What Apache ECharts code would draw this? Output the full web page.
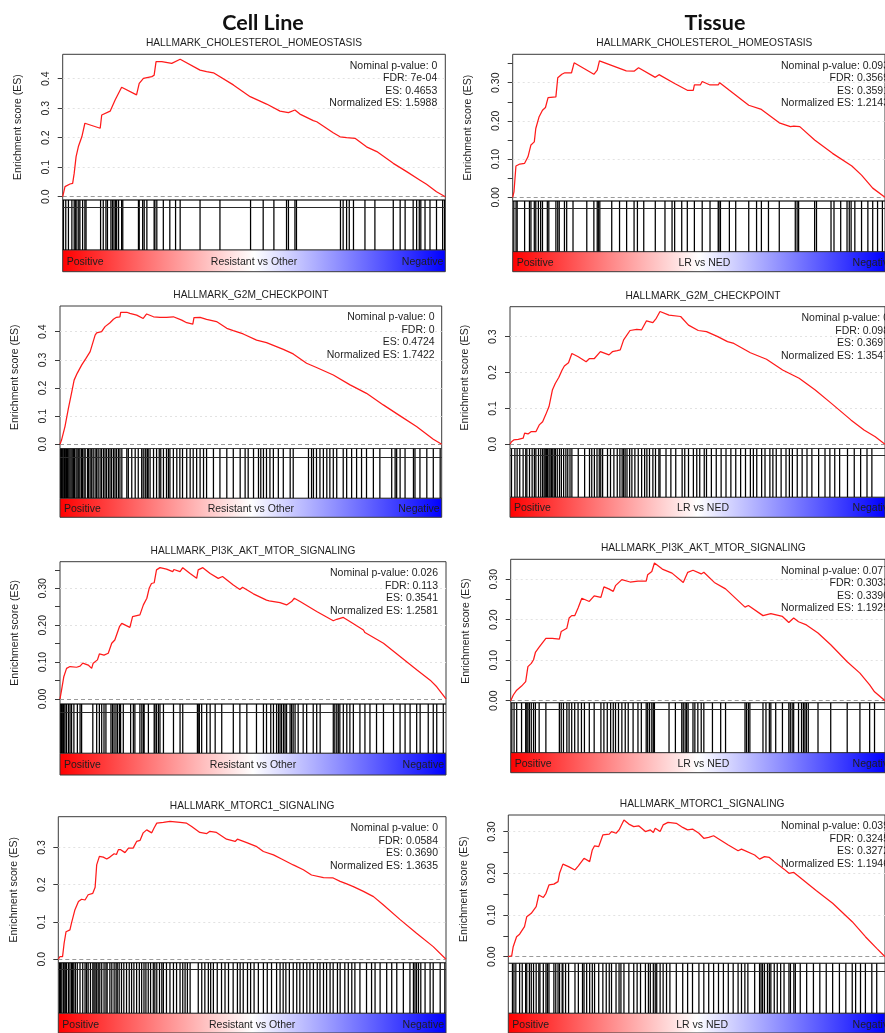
<!DOCTYPE html>
<html><head><meta charset="utf-8">
<script src="https://cdn.jsdelivr.net/npm/echarts@6/dist/echarts.min.js"></script>
<style>html,body{margin:0;padding:0;background:#fff}#c{width:885px;height:1033px}</style>
</head><body><div id="c"></div>
<script>
// ---------------- DATA ----------------
const columnHeaders = ['Cell Line', 'Tissue'];
const geneSets = ['HALLMARK_CHOLESTEROL_HOMEOSTASIS', 'HALLMARK_CHOLESTEROL_HOMEOSTASIS',
  'HALLMARK_G2M_CHECKPOINT', 'HALLMARK_G2M_CHECKPOINT',
  'HALLMARK_PI3K_AKT_MTOR_SIGNALING', 'HALLMARK_PI3K_AKT_MTOR_SIGNALING',
  'HALLMARK_MTORC1_SIGNALING', 'HALLMARK_MTORC1_SIGNALING'];
const contrasts = ['Resistant vs Other', 'LR vs NED'];
const bandEnds = ['Positive', 'Negative'];

const stats1 = ['Nominal p-value: 0', 'FDR: 7e-04', 'ES: 0.4653', 'Normalized ES: 1.5988'];
const stats2 = ['Nominal p-value: 0.093', 'FDR: 0.3569', 'ES: 0.3591', 'Normalized ES: 1.2143'];
const stats3 = ['Nominal p-value: 0', 'FDR: 0', 'ES: 0.4724', 'Normalized ES: 1.7422'];
const stats4 = ['Nominal p-value: 0', 'FDR: 0.098', 'ES: 0.3697', 'Normalized ES: 1.3547'];
const stats5 = ['Nominal p-value: 0.026', 'FDR: 0.113', 'ES: 0.3541', 'Normalized ES: 1.2581'];
const stats6 = ['Nominal p-value: 0.077', 'FDR: 0.3033', 'ES: 0.3390', 'Normalized ES: 1.1925'];
const stats7 = ['Nominal p-value: 0', 'FDR: 0.0584', 'ES: 0.3690', 'Normalized ES: 1.3635'];
const stats8 = ['Nominal p-value: 0.039', 'FDR: 0.3245', 'ES: 0.3272', 'Normalized ES: 1.1946'];

// running enrichment score: [rank position (0-1000), ES]
const es1 = [[0,0],[2,0.011],[6,0.034],[19,0.043],[26,0.045],[30,0.079],[35,0.136],[41,0.17],[50,0.203],[58,0.249],[61,0.251],[98,0.232],[102,0.277],[124,0.29],[137,0.328],[154,0.371],[193,0.345],[200,0.384],[211,0.401],[233,0.407],[239,0.412],[244,0.458],[259,0.458],[285,0.452],[307,0.466],[359,0.429],[376,0.424],[394,0.42],[446,0.379],[490,0.339],[533,0.314],[568,0.29],[590,0.285],[594,0.29],[607,0.294],[620,0.28],[655,0.258],[664,0.254],[707,0.217],[725,0.203],[742,0.2],[764,0.198],[794,0.169],[821,0.153],[864,0.113],[899,0.085],[934,0.056],[951,0.042],[977,0.017],[1000,0]];
const es2 = [[0,0],[3.5,0.015],[8.7,0.082],[19,0.087],[32,0.089],[41,0.106],[49,0.137],[58,0.145],[62,0.18],[71,0.211],[80,0.228],[88,0.235],[95,0.261],[116,0.263],[121,0.313],[132,0.322],[140,0.326],[158,0.326],[165,0.352],[218,0.322],[227,0.333],[233,0.357],[305,0.331],[326,0.33],[338,0.339],[383,0.314],[393,0.321],[435,0.298],[469,0.28],[485,0.28],[488,0.294],[504,0.294],[509,0.303],[530,0.294],[552,0.294],[556,0.3],[582,0.28],[634,0.241],[668,0.23],[716,0.195],[746,0.185],[755,0.186],[771,0.185],[811,0.15],[859,0.115],[911,0.082],[937,0.058],[967,0.024],[1000,0]];
const es3 = [[0,0],[4,0.015],[13,0.063],[22,0.128],[31,0.187],[37,0.228],[45,0.252],[57,0.282],[68,0.305],[79,0.329],[92,0.388],[96,0.396],[109,0.4],[118,0.418],[122,0.424],[131,0.432],[140,0.444],[148,0.451],[157,0.453],[159,0.469],[175,0.469],[183,0.465],[201,0.459],[218,0.447],[227,0.463],[245,0.453],[262,0.451],[279,0.451],[297,0.453],[319,0.441],[332,0.432],[348,0.427],[351,0.45],[367,0.451],[384,0.444],[410,0.436],[437,0.412],[454,0.404],[480,0.392],[515,0.37],[541,0.361],[585,0.337],[611,0.321],[646,0.288],[672,0.273],[716,0.246],[760,0.211],[803,0.181],[847,0.14],[891,0.101],[934,0.063],[978,0.018],[1000,0]];
const es4 = [[0,0],[4,0.007],[10,0.012],[22,0.014],[35,0.017],[39,0.031],[48,0.029],[56,0.035],[69,0.035],[78,0.054],[87,0.063],[95,0.082],[104,0.105],[113,0.151],[121,0.17],[130,0.186],[139,0.207],[145,0.218],[156,0.227],[165,0.253],[182,0.244],[203,0.23],[212,0.239],[225,0.239],[241,0.258],[264,0.249],[273,0.258],[286,0.261],[294,0.263],[303,0.291],[320,0.317],[338,0.32],[351,0.319],[364,0.344],[381,0.339],[390,0.351],[400,0.37],[424,0.36],[455,0.356],[476,0.332],[502,0.317],[524,0.314],[554,0.3],[580,0.286],[597,0.281],[641,0.255],[684,0.237],[727,0.207],[771,0.184],[814,0.151],[857,0.114],[909,0.068],[944,0.04],[974,0.021],[1000,0]];
const es5 = [[0,0],[4,0.024],[10,0.061],[17,0.083],[26,0.088],[43,0.086],[52,0.089],[59,0.097],[73,0.092],[82,0.083],[86,0.097],[97,0.106],[102,0.122],[114,0.119],[125,0.124],[134,0.151],[142,0.16],[154,0.196],[160,0.205],[181,0.194],[188,0.223],[207,0.228],[216,0.255],[225,0.273],[231,0.3],[237,0.313],[244,0.315],[250,0.35],[259,0.356],[276,0.352],[292,0.345],[295,0.351],[311,0.345],[318,0.356],[337,0.34],[354,0.327],[358,0.35],[370,0.356],[389,0.34],[410,0.327],[421,0.332],[449,0.309],[466,0.297],[473,0.303],[501,0.285],[535,0.268],[542,0.266],[570,0.261],[587,0.255],[600,0.264],[607,0.273],[622,0.264],[665,0.237],[708,0.212],[717,0.216],[734,0.221],[751,0.21],[786,0.187],[790,0.18],[794,0.182],[838,0.151],[881,0.115],[924,0.079],[959,0.051],[976,0.033],[1000,0]];
const es6 = [[0,0],[7,0.014],[16,0.026],[29,0.036],[40,0.047],[46,0.084],[55,0.092],[61,0.101],[66,0.119],[76,0.132],[94,0.154],[111,0.154],[130,0.152],[135,0.171],[150,0.179],[156,0.204],[163,0.21],[171,0.21],[180,0.229],[190,0.253],[210,0.245],[223,0.259],[241,0.255],[249,0.281],[262,0.276],[274,0.27],[280,0.284],[297,0.299],[319,0.293],[340,0.295],[362,0.295],[366,0.311],[377,0.319],[384,0.34],[405,0.325],[431,0.315],[461,0.292],[473,0.317],[487,0.322],[509,0.313],[516,0.317],[544,0.292],[574,0.276],[626,0.231],[635,0.235],[674,0.21],[695,0.215],[726,0.208],[743,0.193],[756,0.204],[769,0.195],[790,0.187],[821,0.167],[855,0.138],[899,0.096],[933,0.068],[959,0.039],[972,0.022],[1000,0]];
const es7 = [[0,0],[4,0.007],[11,0.007],[15,0.043],[20,0.074],[30,0.079],[34,0.097],[43,0.133],[52,0.155],[60,0.161],[69,0.159],[77,0.173],[89,0.177],[95,0.193],[99,0.253],[106,0.276],[116,0.274],[125,0.269],[133,0.274],[144,0.283],[150,0.281],[155,0.294],[161,0.294],[172,0.286],[181,0.298],[193,0.298],[202,0.316],[211,0.319],[219,0.339],[228,0.347],[241,0.339],[247,0.352],[254,0.365],[271,0.367],[288,0.37],[314,0.367],[331,0.365],[344,0.356],[365,0.34],[383,0.337],[391,0.343],[408,0.34],[434,0.322],[456,0.316],[462,0.322],[486,0.313],[512,0.302],[529,0.289],[555,0.28],[576,0.269],[580,0.274],[606,0.253],[632,0.24],[653,0.226],[684,0.219],[709,0.218],[727,0.209],[744,0.202],[761,0.195],[787,0.182],[813,0.168],[838,0.146],[881,0.107],[924,0.07],[967,0.034],[1000,0]];
const es8 = [[0,0],[9,0.002],[13,0.024],[22,0.048],[30,0.054],[43,0.072],[49,0.096],[61,0.104],[74,0.12],[81,0.148],[93,0.142],[100,0.152],[108,0.172],[121,0.174],[132,0.18],[136,0.2],[145,0.222],[160,0.216],[177,0.208],[186,0.218],[201,0.236],[216,0.228],[223,0.256],[229,0.266],[240,0.264],[251,0.292],[268,0.294],[274,0.3],[286,0.296],[294,0.304],[299,0.308],[307,0.328],[320,0.318],[333,0.312],[346,0.314],[364,0.3],[377,0.304],[385,0.298],[390,0.308],[403,0.3],[411,0.316],[424,0.322],[446,0.32],[463,0.31],[476,0.304],[489,0.306],[506,0.296],[519,0.284],[532,0.286],[545,0.29],[584,0.268],[610,0.254],[619,0.258],[654,0.244],[667,0.234],[680,0.24],[693,0.238],[706,0.228],[732,0.21],[745,0.2],[758,0.202],[818,0.158],[861,0.128],[913,0.084],[948,0.048],[978,0.02],[1000,0]];

// gene-set hit positions in the ranked list (0-1000)
const hits1 = [2,8,15,24,30,33,37,42,45,52,58,61,99,106,113,117,126,130,134,138,141,146,154,157,198,200,209,213,220,239,241,246,263,280,295,307,359,411,491,524,552,585,590,607,611,726,733,742,749,760,790,816,864,882,895,916,925,932,936,947,960,977,993,998];
const hits2 = [3,9,12,32,45,49,58,62,69,75,80,93,97,116,121,125,139,145,162,199,218,227,230,234,266,287,306,326,335,352,383,409,428,435,454,469,488,509,530,552,554,558,582,599,634,655,668,687,716,759,764,768,811,816,855,863,881,898,904,909,919,937,954,967,980,993];
const hits3 = [2,4,7,10,12,15,17,20,23,26,29,32,35,38,42,45,49,52,56,59,63,66,72,75,79,83,87,92,96,100,105,109,114,118,122,127,131,135,140,144,148,153,157,162,175,179,188,197,205,214,218,223,225,229,231,236,245,253,260,264,271,279,284,288,297,306,314,321,332,341,349,358,367,376,384,402,419,437,454,472,485,493,507,520,526,533,541,550,559,572,585,603,611,651,659,664,672,681,690,699,707,716,725,742,751,764,777,790,803,821,838,869,878,882,891,904,926,930,943,961,978,996];
const hits4 = [4,13,19,26,35,42,45,52,59,65,69,76,82,87,91,94,97,100,104,107,111,114,118,121,126,132,137,143,149,154,160,165,182,199,212,218,225,232,238,242,247,260,268,277,286,293,299,303,307,312,319,325,333,342,351,359,365,372,381,388,397,400,416,429,442,459,466,476,489,498,506,518,524,537,550,563,576,589,602,615,628,641,649,658,671,680,693,701,710,723,736,745,753,766,779,792,805,823,840,853,866,879,900,918,935,952,965];
const hits5 = [2,4,7,9,10,13,17,22,26,30,36,45,52,56,85,95,102,108,114,119,132,136,140,145,149,154,157,164,183,190,194,207,212,216,218,229,244,246,250,255,259,268,294,311,318,356,358,361,367,380,389,402,419,449,466,484,509,527,535,546,553,561,566,570,574,579,583,587,596,600,604,609,617,630,639,656,665,674,708,712,717,721,725,734,743,751,760,777,790,803,820,838,864,881,894,907,924,933,954,967,976,993];
const hits6 = [3,9,16,29,40,43,46,50,55,61,66,76,94,130,135,141,150,156,163,171,180,189,197,210,223,241,249,258,267,274,280,288,297,306,314,327,340,349,362,366,371,377,381,384,423,440,457,461,466,470,474,487,492,500,509,516,539,561,574,626,630,635,639,674,682,691,695,708,726,743,747,752,756,769,777,782,786,790,795,821,855,899,933,959,972];
const hits7 = [3,6,9,13,15,18,21,26,30,34,37,40,44,49,56,63,69,73,77,83,89,92,95,99,103,107,112,118,123,126,133,138,144,149,152,157,163,169,176,183,189,195,202,209,215,221,226,232,238,245,249,254,261,267,271,279,288,297,305,314,321,327,333,340,361,370,378,387,393,400,410,421,430,439,451,462,469,477,488,496,505,516,529,539,550,563,572,580,587,596,606,615,623,632,641,649,658,668,675,684,692,701,709,720,727,739,748,757,765,778,795,808,817,830,847,860,873,890,907,916,920,924,929,935,946,959,967,985,997];
const hits8 = [11,15,20,30,37,46,49,56,61,67,74,81,84,93,100,104,108,121,126,132,136,143,145,152,160,177,186,197,201,208,216,223,229,240,251,260,268,274,286,294,299,307,320,333,342,351,364,372,377,385,390,394,403,411,420,429,446,463,476,489,506,519,532,545,558,571,584,597,610,619,628,636,654,667,671,675,680,688,693,697,706,714,723,732,745,749,758,762,775,792,810,827,844,861,879,896,913,922,935,948,965,978];

// y-axis tick positions and labelled values
const ticksA = [0, 0.1, 0.2, 0.3, 0.4];
const ticksB = [0, 0.05, 0.1, 0.15, 0.2, 0.25, 0.3, 0.35];
const ticksC = [0, 0.1, 0.2, 0.3];
const ticksD = [0, 0.05, 0.1, 0.15, 0.2, 0.25, 0.3];
const labelsA = [0, 0.1, 0.2, 0.3, 0.4];
const labelsC = [0, 0.1, 0.2, 0.3];

// ---------------- LAYOUT ----------------
const layout = [
  {left:62.7, width:382.6, top:54.3, esH:145.7, yMin:-0.0112, yMax:0.4827, hitsH:50,   line2:0.854, gradH:21.7, statsPad:8},
  {left:512.7,width:383.3, top:54.3, esH:146.7, yMin:-0.0097, yMax:0.3743, hitsH:50.7, line2:0.856, gradH:20,   statsPad:7},
  {left:60,   width:381.7, top:306,  esH:142.5, yMin:-0.0149, yMax:0.4913, hitsH:49.8, line2:0.835, gradH:19,   statsPad:7},
  {left:510,  width:386,   top:306.7,esH:141.8, yMin:-0.0117, yMax:0.3833, hitsH:48.8, line2:0.867, gradH:20,   statsPad:7},
  {left:60,   width:386,   top:561.7,esH:142.3, yMin:-0.0136, yMax:0.3721, hitsH:49.3, line2:0.844, gradH:21.7, statsPad:8},
  {left:510.7,width:385.3, top:559.3,esH:143.4, yMin:-0.005,  yMax:0.3491, hitsH:50,   line2:0.868, gradH:20,   statsPad:7},
  {left:58.3, width:387.7, top:816.7,esH:146,   yMin:-0.0091, yMax:0.3823, hitsH:50.6, line2:0.87,  gradH:22,   statsPad:8},
  {left:508.3,width:387.7, top:815,  esH:148.3, yMin:-0.0158, yMax:0.3398, hitsH:50,   line2:0.852, gradH:22,   statsPad:7}
];

const panels = [
  {name:geneSets[0], stats:stats1, es:es1, hits:hits1, ticks:ticksA, labels:labelsA, dec:1, contrast:contrasts[0]},
  {name:geneSets[1], stats:stats2, es:es2, hits:hits2, ticks:ticksB, labels:labelsC, dec:2, contrast:contrasts[1]},
  {name:geneSets[2], stats:stats3, es:es3, hits:hits3, ticks:ticksA, labels:labelsA, dec:1, contrast:contrasts[0]},
  {name:geneSets[3], stats:stats4, es:es4, hits:hits4, ticks:ticksC, labels:labelsC, dec:1, contrast:contrasts[1]},
  {name:geneSets[4], stats:stats5, es:es5, hits:hits5, ticks:ticksB, labels:labelsC, dec:2, contrast:contrasts[0]},
  {name:geneSets[5], stats:stats6, es:es6, hits:hits6, ticks:ticksD, labels:labelsC, dec:2, contrast:contrasts[1]},
  {name:geneSets[6], stats:stats7, es:es7, hits:hits7, ticks:ticksC, labels:labelsC, dec:1, contrast:contrasts[0]},
  {name:geneSets[7], stats:stats8, es:es8, hits:hits8, ticks:ticksD, labels:labelsC, dec:2, contrast:contrasts[1]}
];

const FONT = '"Liberation Sans", Arial, sans-serif';
const TXT = '#1e1e1e';
const grid = [], xAxis = [], yAxis = [], series = [], graphic = [];

function txt(x, y, text, size, align) {
  return {type:'text', x:x, y:y, silent:true, z:100,
    style:{text:text, fill:TXT, fontFamily:FONT, fontSize:size,
      align:align, textAlign:align, verticalAlign:'middle', textVerticalAlign:'middle'}};
}

// column headers
[[263, columnHeaders[0]], [715, columnHeaders[1]]].forEach(([x, t]) => {
  const h = txt(x, 23, t, 21.5, 'center');
  h.style.fontFamily = 'Lato, "Open Sans", sans-serif';
  h.style.fontWeight = 'bold';
  h.style.fill = '#111';
  graphic.push(h);
});

panels.forEach((p, i) => {
  const L = layout[i];
  const g0 = grid.length;
  const esBottom = L.top + L.esH;
  const hitsBottom = esBottom + L.hitsH;
  const right = L.left + L.width;
  const cx = L.left + L.width / 2;

  grid.push({left:L.left, top:L.top, width:L.width, height:L.esH, show:true, borderColor:'#3a3a3a', borderWidth:1, backgroundColor:'transparent', containLabel:false});
  grid.push({left:L.left, top:esBottom, width:L.width, height:L.hitsH, show:true, borderColor:'#3a3a3a', borderWidth:1, backgroundColor:'transparent', containLabel:false});
  grid.push({left:L.left, top:hitsBottom, width:L.width, height:L.gradH, show:true, borderColor:'#3a3a3a', borderWidth:1, containLabel:false,
    backgroundColor:{type:'linear', x:0, y:0, x2:1, y2:0, colorStops:[
      {offset:0, color:'#ff0000'}, {offset:0.5, color:'#ffffff'}, {offset:1, color:'#0000ff'}]}});

  for (let k = 0; k < 3; k++) xAxis.push({type:'value', gridIndex:g0 + k, min:0, max:1000, show:false});
  yAxis.push({type:'value', gridIndex:g0, min:L.yMin, max:L.yMax,
    name:'Enrichment score (ES)', nameLocation:'middle', nameRotate:90, nameGap:39,
    nameTextStyle:{fontFamily:FONT, fontSize:10.5, color:TXT},
    axisLine:{show:false},
    axisTick:{show:true, length:5, inside:false, customValues:p.ticks, lineStyle:{color:'#3a3a3a', width:1}},
    axisLabel:{show:true, rotate:90, margin:11, customValues:p.labels, formatter:v => Number(v).toFixed(p.dec),
      fontFamily:FONT, fontSize:10.5, color:TXT},
    splitLine:{show:false}});
  yAxis.push({type:'value', gridIndex:g0 + 1, min:0, max:1, show:false});
  yAxis.push({type:'value', gridIndex:g0 + 2, min:0, max:1, show:false});

  const ml = [{yAxis:0, lineStyle:{type:[4,3], color:'#9a9a9a', width:1.2}}];
  p.labels.filter(v => v > 0).forEach(v => ml.push({yAxis:v, lineStyle:{type:[2,3], color:'#e2e2e2', width:1}}));
  series.push({type:'line', xAxisIndex:g0, yAxisIndex:g0, data:p.es, symbol:'none', showSymbol:false,
    lineStyle:{color:'#ff1a1a', width:1.25}, animation:false, silent:true, z:5, clip:true,
    markLine:{silent:true, symbol:'none', animation:false, label:{show:false}, data:ml}});

  series.push({type:'custom', xAxisIndex:g0 + 1, yAxisIndex:g0 + 1, data:p.hits.map(v => [v]), encode:{x:0},
    animation:false, silent:true, clip:true,
    renderItem:(params, api) => {
      const x = api.value(0);
      const a = api.coord([x, 0]);
      const b = api.coord([x, 1]);
      return {type:'line', shape:{x1:a[0], y1:a[1], x2:b[0], y2:b[1]}, style:{stroke:'#000000', lineWidth:1.25}};
    },
    markLine:{silent:true, symbol:'none', animation:false, label:{show:false},
      data:[{yAxis:L.line2, lineStyle:{type:'solid', color:'#2a2a2a', width:1}}]}});

  // subtitle
  graphic.push(txt(cx, L.top - 11, p.name, 10.2, 'center'));
  // stats
  p.stats.forEach((s, j) => graphic.push(txt(right - L.statsPad, L.top + 11.5 + j * 12.5, s, 10.5, 'right')));
  // band labels
  const by = hitsBottom + L.gradH / 2 + 1;
  graphic.push(txt(L.left + 4, by, bandEnds[0], 10.5, 'left'));
  graphic.push(txt(cx, by, p.contrast, 10.5, 'center'));
  graphic.push(txt(right - 2, by, bandEnds[1], 10.5, 'right'));
});

const chart = echarts.init(document.getElementById('c'), null, {renderer:'canvas'});
chart.setOption({animation:false, backgroundColor:'#ffffff', grid, xAxis, yAxis, series, graphic});
</script>
</body></html>
